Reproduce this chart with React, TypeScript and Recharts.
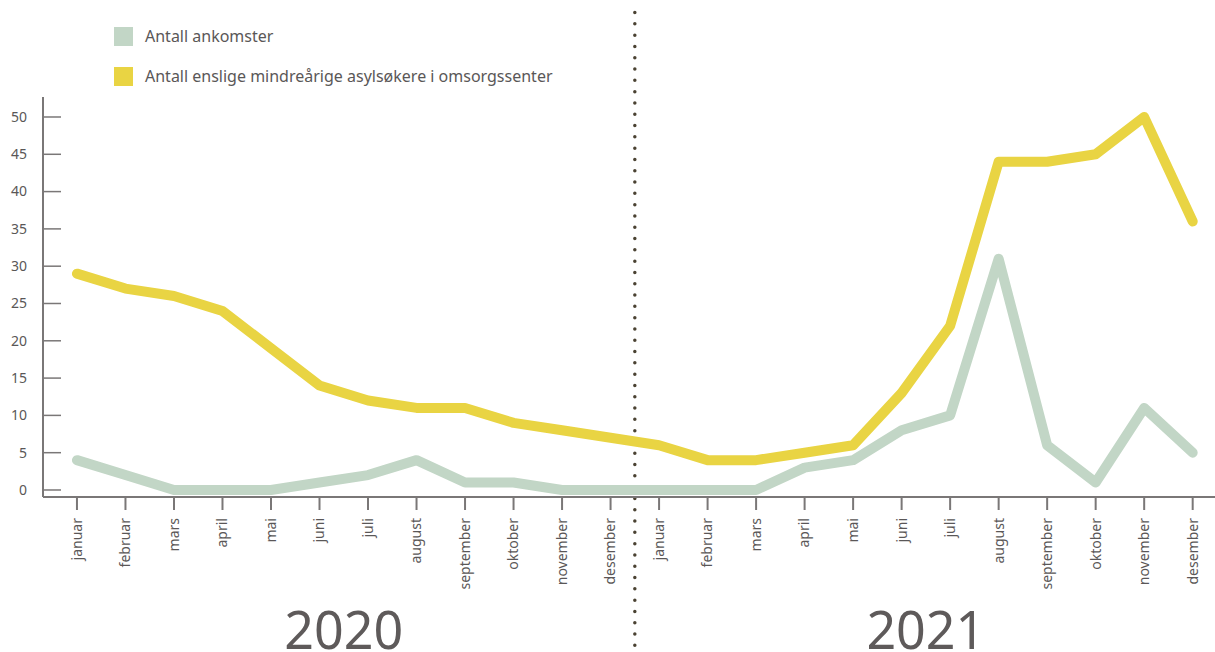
import React from "react"
import { Legend, Line, LineChart, ReferenceLine, XAxis, YAxis } from "recharts"

const months = [
  "januar",
  "februar",
  "mars",
  "april",
  "mai",
  "juni",
  "juli",
  "august",
  "september",
  "oktober",
  "november",
  "desember",
]
const years = ["2020", "2021"]

// Antall ankomster, jan 2020 - des 2021
const ankomster = [4, 2, 0, 0, 0, 1, 2, 4, 1, 1, 0, 0, 0, 0, 0, 3, 4, 8, 10, 31, 6, 1, 11, 5]
// Antall enslige mindreårige asylsøkere i omsorgssenter
const omsorgssenter = [29, 27, 26, 24, 19, 14, 12, 11, 11, 9, 8, 7, 6, 4, 4, 5, 6, 13, 22, 44, 44, 45, 50, 36]

const yTicks = [0, 5, 10, 15, 20, 25, 30, 35, 40, 45, 50]

const data = ankomster.map((v, i) => ({
  idx: i,
  month: months[i % 12],
  ankomster: v,
  omsorg: omsorgssenter[i],
}))

const monthTicks = data.map((d) => d.idx)
const yearTicks = years.map((_, i) => i * 12 + 5.5)

const FONT = "'Noto Sans', sans-serif"
const TEXT = "#5a5757"
const AXIS = "#7a7777"

function MonthTick(props: any) {
  const { x, y, payload } = props
  return (
    <text
      x={x}
      y={y}
      dy="0.35em"
      transform={`rotate(-90, ${x}, ${y})`}
      textAnchor="end"
      fontSize={14}
      fontFamily={FONT}
      fill={TEXT}
    >
      {months[payload.value % 12]}
    </text>
  )
}

function YearTick(props: any) {
  const { x, y, payload } = props
  return (
    <text x={x} y={y} dy={47} textAnchor="middle" fontSize={52} fontFamily={FONT} fill="#5e5a5a">
      {years[Math.floor(payload.value / 12)]}
    </text>
  )
}

function ValueTick(props: any) {
  const { x, y, payload } = props
  return (
    <g>
      <line x1={x + 16} x2={x + 34} y1={y} y2={y} stroke={AXIS} strokeWidth={1.5} />
      <text x={x} y={y} dy="0.35em" textAnchor="end" fontSize={14} fontFamily={FONT} fill={TEXT}>
        {payload.value}
      </text>
    </g>
  )
}

function LegendContent(props: any) {
  const { payload } = props
  return (
    <div style={{ fontFamily: FONT, fontSize: 16, color: TEXT }}>
      {(payload || []).map((p: any) => (
        <div key={p.value} style={{ display: "flex", alignItems: "center", height: 40 }}>
          <span
            style={{ width: 19, height: 19, background: p.color, display: "inline-block", marginRight: 12 }}
          />
          <span>{p.value}</span>
        </div>
      ))}
    </div>
  )
}

export default function App() {
  return (
    <div style={{ position: "absolute", left: 0, top: 0, background: "#fff" }}>
      <LineChart width={1215} height={652} data={data} margin={{ top: 97, right: 0, bottom: 0, left: 0 }}>
        <Legend
          layout="vertical"
          align="center"
          verticalAlign="middle"
          content={<LegendContent />}
          wrapperStyle={{ left: 114, top: 16, width: 600, height: 80 }}
        />
        <XAxis
          dataKey="idx"
          type="number"
          domain={[-0.7, 23.46]}
          allowDataOverflow
          ticks={monthTicks}
          interval={0}
          height={105}
          tickSize={13}
          tickMargin={8}
          stroke={AXIS}
          strokeWidth={2}
          tick={<MonthTick />}
        />
        <XAxis
          xAxisId="year"
          dataKey="idx"
          type="number"
          domain={[-0.7, 23.46]}
          allowDataOverflow
          ticks={yearTicks}
          interval={0}
          height={50}
          axisLine={false}
          tickLine={false}
          tickSize={0}
          tickMargin={0}
          tick={<YearTick />}
        />
        <YAxis
          type="number"
          domain={[-0.94, 52.68]}
          allowDataOverflow
          ticks={yTicks}
          interval={0}
          width={43}
          tickSize={0}
          tickMargin={16}
          tickLine={false}
          stroke={AXIS}
          strokeWidth={2}
          tick={<ValueTick />}
        />
        <ReferenceLine
          segment={[
            { x: 11.5, y: 64 },
            { x: 11.5, y: -22 },
          ]}
          ifOverflow="visible"
          stroke="#4a4232"
          strokeWidth={3.5}
          strokeDasharray="0 11.3"
          strokeLinecap="round"
        />
        <Line
          name="Antall ankomster"
          dataKey="ankomster"
          type="linear"
          stroke="#c2d6c6"
          strokeWidth={10}
          strokeLinejoin="round"
          strokeLinecap="round"
          dot={false}
          activeDot={false}
          isAnimationActive={false}
        />
        <Line
          name="Antall enslige mindreårige asylsøkere i omsorgssenter"
          dataKey="omsorg"
          type="linear"
          stroke="#e9d443"
          strokeWidth={10}
          strokeLinejoin="round"
          strokeLinecap="round"
          dot={false}
          activeDot={false}
          isAnimationActive={false}
        />
      </LineChart>
    </div>
  )
}
